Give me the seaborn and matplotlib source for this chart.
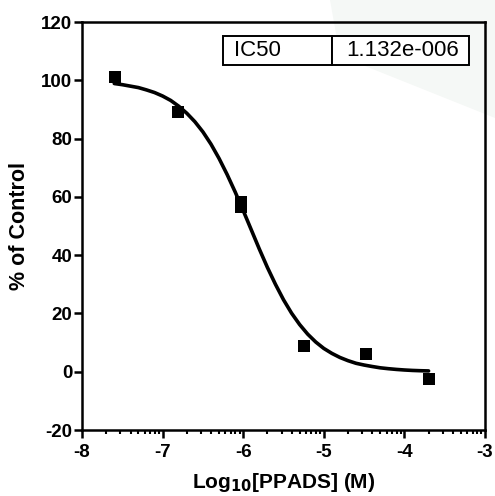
import numpy as np
import pandas as pd
import seaborn as sns
import matplotlib.pyplot as plt
from matplotlib.ticker import FixedLocator
from matplotlib.patches import Polygon

# measured points (log10 M, % of control)
log_conc = [-7.59, -6.81, -6.03, -6.03, -5.25, -4.48, -3.70]
pct_control = [101.3, 89.0, 58.3, 56.6, 8.8, 6.2, -2.6]

# fitted curve
curve_x = [-7.6, -7.5, -7.4, -7.3, -7.2, -7.1, -7.0, -6.9, -6.8, -6.7,
           -6.6, -6.5, -6.4, -6.3, -6.2, -6.1, -6.0, -5.9, -5.8, -5.7,
           -5.6, -5.5, -5.4, -5.3, -5.2, -5.1, -5.0, -4.9, -4.8, -4.7,
           -4.6, -4.5, -4.4, -4.3, -4.2, -4.1, -4.0, -3.9, -3.8, -3.7]
curve_y = [98.9, 98.5, 98.0, 97.5, 96.7, 95.8, 94.6, 93.1, 91.1, 88.7,
           85.8, 82.3, 78.1, 73.2, 67.7, 61.7, 55.3, 48.7, 42.1, 35.8,
           30.0, 24.7, 20.1, 16.2, 12.9, 10.2, 8.0, 6.3, 4.9, 3.8,
           2.9, 2.3, 1.8, 1.35, 1.05, 0.8, 0.6, 0.45, 0.35, 0.28]

ic50_label = "IC50"
ic50_value = "1.132e-006"

sns.set_style("ticks")
plt.rcParams['font.family'] = ['Liberation Sans', 'DejaVu Sans']
plt.rcParams['axes.unicode_minus'] = False
plt.rcParams['text.color'] = 'black'
plt.rcParams['axes.labelcolor'] = 'black'
plt.rcParams['xtick.color'] = 'black'
plt.rcParams['ytick.color'] = 'black'

pts = pd.DataFrame({"x": log_conc, "y": pct_control})
fit = pd.DataFrame({"x": curve_x, "y": curve_y})

fig = plt.figure(figsize=(4.95, 4.96), dpi=100)

# faint background watermark (top right), kept behind the axes
wm = Polygon([(330, 496), (495, 496), (495, 378), (340, 440)],
             closed=True, transform=None, facecolor="#f5f8f6",
             edgecolor="none", zorder=-1)
fig.patches.append(wm)

ax = fig.add_axes([0.1657, 0.133, 0.8141, 0.8226])
ax.set_zorder(1)
ax.patch.set_alpha(0)

sns.lineplot(data=fit, x="x", y="y", color="black", linewidth=2.6, ax=ax, sort=False)
sns.scatterplot(data=pts, x="x", y="y", marker="s", s=80, color="black",
                edgecolor="black", linewidth=0, ax=ax, zorder=3)

ax.set_xlim(-8, -3)
ax.set_ylim(-20, 120)
ax.set_xticks(range(-8, -2))
ax.set_yticks(range(-20, 121, 20))
minor = [d + np.log10(k) for d in range(-8, -3) for k in range(2, 10)]
ax.xaxis.set_minor_locator(FixedLocator(minor))

for s in ax.spines.values():
    s.set_linewidth(1.8)
    s.set_color("black")
ax.tick_params(axis="both", which="major", length=6, width=1.8, labelsize=13.5)
ax.tick_params(axis="x", which="major", pad=4)
ax.tick_params(axis="y", which="major", pad=1)
ax.tick_params(axis="x", which="minor", length=3.2, width=1.5)
for lab in ax.get_xticklabels() + ax.get_yticklabels():
    lab.set_fontweight("bold")

ax.set_xlabel("Log$_{\\mathbf{10}}$[PPADS] (M)", fontsize=15, fontweight="bold", labelpad=7)
ax.set_ylabel("% of Control", fontsize=15.5, fontweight="bold")
ax.yaxis.set_label_coords(-0.13, 0.5)

tbl = ax.table(cellText=[[ic50_label, ic50_value]], cellLoc="left",
               colWidths=[0.444, 0.556], bbox=[0.349, 0.8946, 0.612, 0.0711])
tbl.auto_set_font_size(False)
for cell in tbl.get_celld().values():
    cell.set_linewidth(1.4)
    cell.set_text_props(fontsize=16)
    cell.set_facecolor("white")

fig.savefig("out.png", dpi=100)
